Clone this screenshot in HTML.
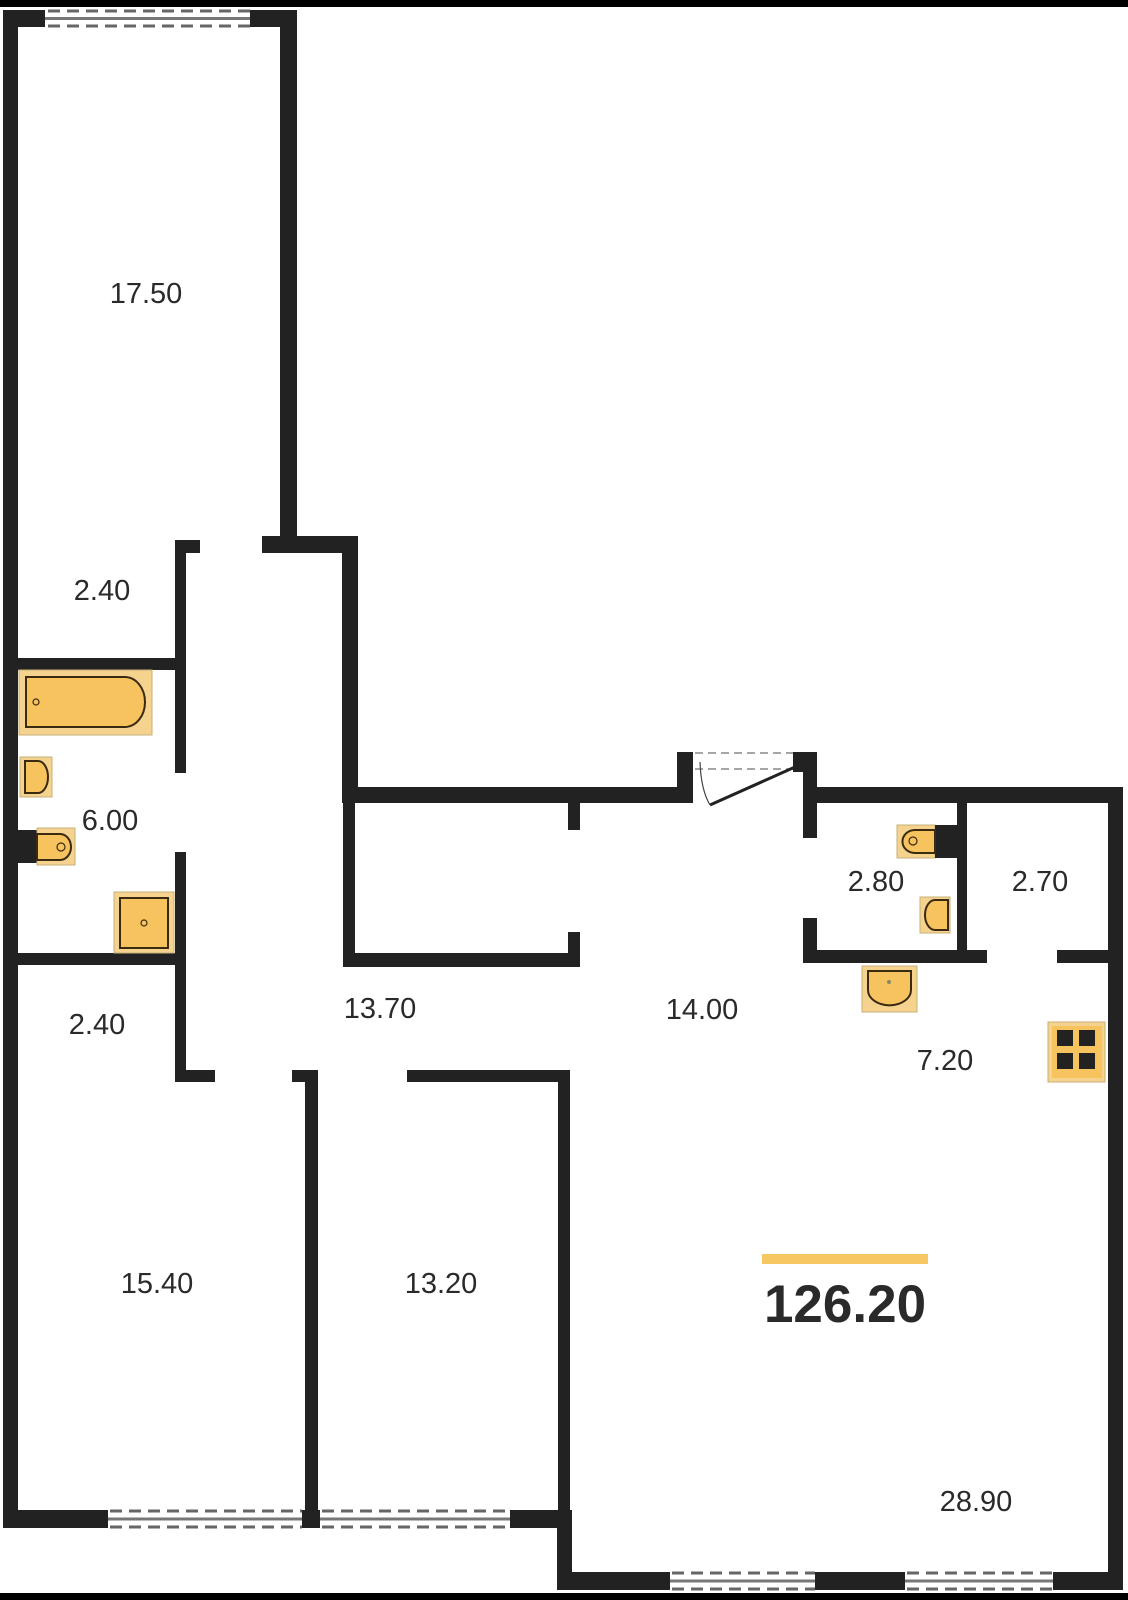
<!DOCTYPE html>
<html><head><meta charset="utf-8"><style>
html,body{margin:0;padding:0;background:#fff;}
svg{display:block;}
text{font-family:"Liberation Sans",sans-serif;fill:#2a2a2a;}
</style></head><body>
<svg width="1128" height="1600" viewBox="0 0 1128 1600" xmlns="http://www.w3.org/2000/svg">
<rect x="0" y="0" width="1128" height="1600" fill="#fff"/>
<rect x="0" y="0" width="1128" height="7" fill="#000"/>
<rect x="0" y="1593" width="1128" height="7" fill="#000"/>
<g fill="#222">
<!-- top room -->
<rect x="3" y="10" width="42" height="17"/>
<rect x="250" y="10" width="47" height="17"/>
<rect x="3" y="10" width="15" height="1518"/>
<rect x="280" y="10" width="17" height="543"/>
<!-- corridor upper -->
<rect x="262" y="536" width="96" height="17"/>
<rect x="342" y="536" width="16" height="267"/>
<rect x="175" y="540" width="25" height="13"/>
<rect x="175" y="540" width="11" height="233"/>
<rect x="17" y="658" width="160" height="12"/>
<rect x="175" y="852" width="11" height="230"/>
<rect x="17" y="953" width="160" height="12"/>
<rect x="175" y="1070" width="40" height="12"/>
<!-- closet -->
<rect x="343" y="787" width="350" height="16"/>
<rect x="343" y="787" width="12" height="180"/>
<rect x="343" y="953" width="237" height="14"/>
<rect x="568" y="932" width="12" height="35"/>
<rect x="568" y="803" width="12" height="27"/>
<!-- entrance -->
<rect x="677" y="752" width="16" height="51"/>
<rect x="793" y="752" width="24" height="20"/>
<rect x="803" y="752" width="14" height="86"/>
<rect x="803" y="787" width="320" height="16"/>
<rect x="957" y="803" width="10" height="157"/>
<rect x="803" y="918" width="14" height="45"/>
<rect x="803" y="950" width="184" height="13"/>
<rect x="1057" y="950" width="53" height="13"/>
<rect x="1108" y="787" width="15" height="803"/>
<!-- bottom -->
<rect x="292" y="1070" width="26" height="12"/>
<rect x="305" y="1070" width="13" height="458"/>
<rect x="407" y="1070" width="163" height="12"/>
<rect x="558" y="1070" width="12" height="458"/>
<rect x="3" y="1510" width="105" height="18"/>
<rect x="302" y="1510" width="18" height="18"/>
<rect x="510" y="1510" width="60" height="18"/>
<rect x="557" y="1510" width="15" height="80"/>
<rect x="557" y="1572" width="113" height="18"/>
<rect x="815" y="1572" width="90" height="18"/>
<rect x="1053" y="1572" width="70" height="18"/>
</g>
<!-- windows -->
<g stroke="#777" stroke-width="3" fill="none">
<line x1="45" y1="18.5" x2="250" y2="18.5"/>
<line x1="108" y1="1519" x2="302" y2="1519"/>
<line x1="320" y1="1519" x2="510" y2="1519"/>
<line x1="670" y1="1581" x2="815" y2="1581"/>
<line x1="905" y1="1581" x2="1053" y2="1581"/>
</g>
<g stroke="#666" stroke-width="3" stroke-dasharray="12,7" fill="none">
<line x1="48" y1="11" x2="250" y2="11"/><line x1="48" y1="26" x2="250" y2="26"/>
<line x1="110" y1="1511" x2="302" y2="1511"/><line x1="110" y1="1527" x2="302" y2="1527"/>
<line x1="322" y1="1511" x2="510" y2="1511"/><line x1="322" y1="1527" x2="510" y2="1527"/>
<line x1="672" y1="1573" x2="815" y2="1573"/><line x1="672" y1="1589" x2="815" y2="1589"/>
<line x1="907" y1="1573" x2="1053" y2="1573"/><line x1="907" y1="1589" x2="1053" y2="1589"/>
</g>
<g stroke="#888" stroke-width="1.5" stroke-dasharray="8,5" fill="none">
<line x1="695" y1="753" x2="793" y2="753"/><line x1="695" y1="769" x2="793" y2="769"/>
</g>
<line x1="710" y1="805" x2="795" y2="767" stroke="#222" stroke-width="3"/>
<path d="M700,762 Q701,790 710,805" stroke="#444" stroke-width="1.2" fill="none"/>
<!-- fixtures -->
<g stroke="#3a2a10" stroke-width="2">
<rect x="19" y="670" width="133" height="65" fill="#f5d38e" stroke="#c8b07a" stroke-width="1"/>
<path d="M26,677 H125 A20,25 0 0 1 125,727 H26 Z" fill="#f7c35f"/>
<circle cx="36" cy="702" r="3" fill="none" stroke-width="1.2"/>
<rect x="20" y="757" width="32" height="40" fill="#f5d38e" stroke="#c8b07a" stroke-width="1"/>
<path d="M25,761 H38 A10,16 0 0 1 38,793 H25 Z" fill="#f7c35f"/>
<rect x="17" y="830" width="20" height="33" fill="#222" stroke="none"/>
<rect x="37" y="828" width="38" height="37" fill="#f5d38e" stroke="#c8b07a" stroke-width="1"/>
<path d="M37,834 H60 A11,13 0 0 1 60,860 H37 Z" fill="#f7c35f"/>
<circle cx="61" cy="847" r="4" fill="none" stroke-width="1.2"/>
<rect x="114" y="892" width="60" height="61" fill="#f5d38e" stroke="#c8b07a" stroke-width="1"/>
<rect x="120" y="898" width="48" height="50" fill="#f7c35f"/>
<circle cx="144" cy="923" r="3" fill="none" stroke-width="1.2"/>
<rect x="897" y="825" width="38" height="33" fill="#f5d38e" stroke="#c8b07a" stroke-width="1"/>
<rect x="935" y="825" width="22" height="33" fill="#222" stroke="none"/>
<path d="M935,830 H915 A12,11 0 0 0 915,853 H935 Z" fill="#f7c35f"/>
<circle cx="913" cy="841" r="4" fill="none" stroke-width="1.2"/>
<rect x="920" y="897" width="30" height="36" fill="#f5d38e" stroke="#c8b07a" stroke-width="1"/>
<path d="M948,900 H935 A10,15 0 0 0 935,930 H948 Z" fill="#f7c35f"/>
<rect x="862" y="966" width="55" height="46" fill="#f5d38e" stroke="#c8b07a" stroke-width="1"/>
<path d="M868,971 V990 A21,15 0 0 0 911,990 V971 Z" fill="#f7c35f"/>
<circle cx="889" cy="982" r="2" fill="#886" stroke="none"/>
<rect x="1048" y="1022" width="57" height="60" fill="#f5d38e" stroke="#c8b07a" stroke-width="1"/>
<rect x="1052" y="1026" width="50" height="52" fill="#f7c35f" stroke="none"/>
</g>
<g fill="#222">
<rect x="1057" y="1030" width="16" height="16"/><rect x="1079" y="1030" width="16" height="16"/>
<rect x="1057" y="1053" width="16" height="16"/><rect x="1079" y="1053" width="16" height="16"/>
</g>
<!-- labels -->
<g font-size="29" text-anchor="middle">
<text x="146" y="303">17.50</text>
<text x="102" y="600">2.40</text>
<text x="110" y="830">6.00</text>
<text x="97" y="1034">2.40</text>
<text x="380" y="1018">13.70</text>
<text x="702" y="1019">14.00</text>
<text x="876" y="891">2.80</text>
<text x="1040" y="891">2.70</text>
<text x="945" y="1070">7.20</text>
<text x="157" y="1293">15.40</text>
<text x="441" y="1293">13.20</text>
<text x="976" y="1511">28.90</text>
</g>
<rect x="762" y="1254" width="166" height="10" fill="#f5c862"/>
<text x="845" y="1322" font-size="53" font-weight="bold" text-anchor="middle" fill="#111">126.20</text>
</svg>
</body></html>
